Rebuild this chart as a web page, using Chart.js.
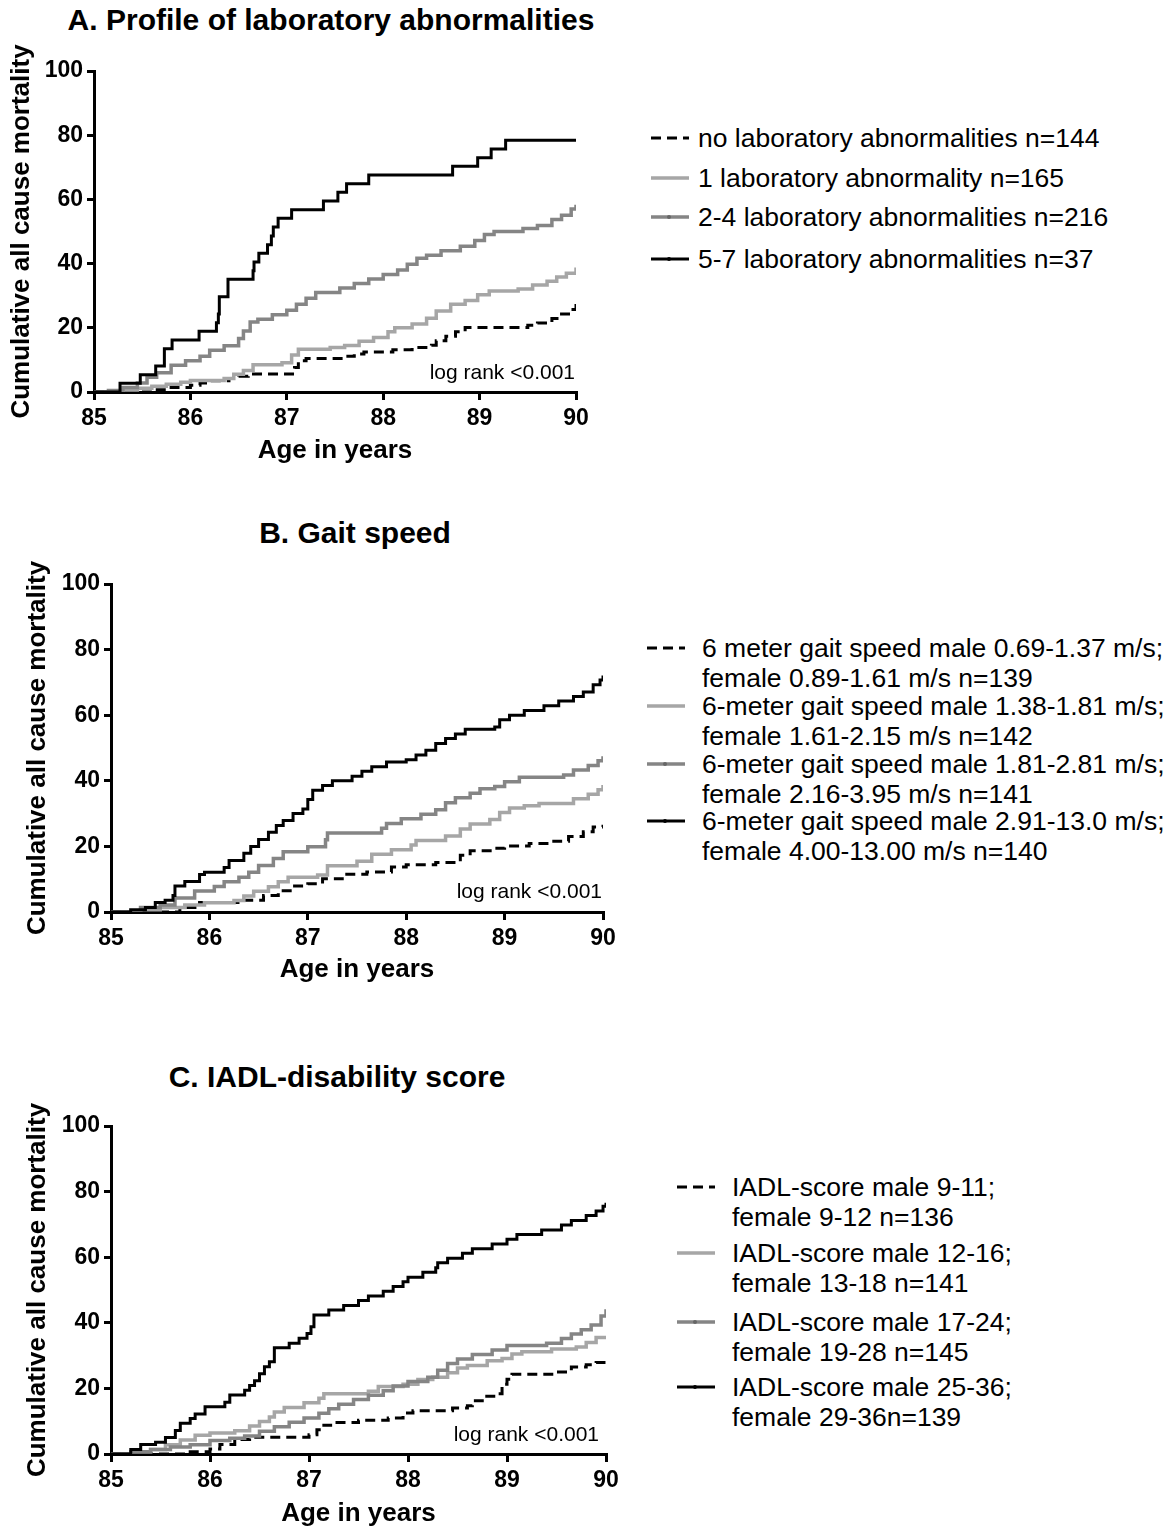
<!DOCTYPE html>
<html>
<head>
<meta charset="utf-8">
<script src="https://cdn.jsdelivr.net/npm/chart.js@4.4.0/dist/chart.umd.min.js"></script>
<style>
  body { margin: 0; background: #fff; width: 1173px; height: 1531px; position: relative; overflow: hidden;
         font-family: "Liberation Sans", Arial, sans-serif; color: #000; }
  .title { position: absolute; font-weight: bold; font-size: 30px; white-space: nowrap; transform: translate(-50%, -50%); }
  .box { position: absolute; left: 0; }
  .logrank { position: absolute; font-size: 21px; white-space: nowrap; transform: translate(-100%, -50%); }
  .row { position: absolute; font-size: 26.5px; line-height: 30px; white-space: nowrap; }
  .row svg { position: absolute; top: 0; }
</style>
</head>
<body>

<div class="title" style="left:331px;top:20px">A. Profile of laboratory abnormalities</div>
<div class="title" style="left:355px;top:533px">B. Gait speed</div>
<div class="title" style="left:337px;top:1077px">C. IADL-disability score</div>

<div class="box" style="top:31px"><canvas id="chartA" width="640" height="440"></canvas></div>
<div class="box" style="top:544px"><canvas id="chartB" width="640" height="446"></canvas></div>
<div class="box" style="top:1086px"><canvas id="chartC" width="640" height="445"></canvas></div>

<div class="logrank" style="left:575px;top:372px">log rank &lt;0.001</div>
<div class="logrank" style="left:602px;top:891px">log rank &lt;0.001</div>
<div class="logrank" style="left:599px;top:1434px">log rank &lt;0.001</div>

<div id="legendA"></div>
<div id="legendB"></div>
<div id="legendC"></div>

<script>
// axis ticks
const ageTicks = [85, 86, 87, 88, 89, 90];
const mortalityTicks = [0, 20, 40, 60, 80, 100];

// A. laboratory abnormalities: [age, cumulative mortality %]
const labNone = [[85,0],[85.6,0.7],[85.8,1.4],[86.0,2.1],[86.1,2.8],[86.2,3.5],[86.4,4.2],[86.5,4.9],[86.6,5.6],[87.08,7.6],[87.12,9.7],[87.2,10.4],[87.6,11.1],[87.7,11.8],[87.8,12.5],[88.1,13.2],[88.3,13.9],[88.5,14.6],[88.55,16.0],[88.65,17.4],[88.75,18.8],[88.85,20.1],[89.5,20.8],[89.6,21.5],[89.75,22.9],[89.85,24.3],[89.95,25.7],[90,27.4]];
const labOne = [[85,0],[85.3,0.6],[85.45,1.2],[85.6,1.8],[85.75,2.4],[85.9,3.0],[86.0,3.6],[86.35,4.2],[86.45,5.5],[86.55,6.7],[86.65,8.5],[86.95,9.1],[87.05,11.5],[87.12,13.3],[87.45,13.9],[87.6,14.5],[87.75,15.8],[87.9,17.0],[88.05,18.8],[88.12,20.0],[88.3,21.2],[88.45,23.0],[88.55,25.2],[88.7,27.3],[88.85,28.5],[88.98,30.3],[89.1,31.5],[89.4,32.1],[89.55,33.3],[89.7,34.5],[89.8,35.8],[89.9,37.0],[90,38.8]];
const labTwoFour = [[85,0],[85.15,0.5],[85.3,1.4],[85.45,2.8],[85.55,4.6],[85.65,6.0],[85.8,8.3],[85.95,9.7],[86.1,11.1],[86.2,13.0],[86.35,14.4],[86.5,16.7],[86.55,19.0],[86.62,21.8],[86.7,22.7],[86.85,24.1],[87.0,25.5],[87.1,27.3],[87.2,29.2],[87.3,31.0],[87.55,32.4],[87.7,33.8],[87.85,35.2],[88.0,36.6],[88.15,38.0],[88.25,39.8],[88.35,41.7],[88.45,42.6],[88.6,44.0],[88.8,45.4],[88.95,47.2],[89.05,49.1],[89.15,50.0],[89.45,50.9],[89.6,51.9],[89.75,53.7],[89.85,55.1],[89.95,57.0],[90,58.3]];
const labFiveSeven = [[85,0],[85.27,2.7],[85.48,5.4],[85.64,8.1],[85.73,13.5],[85.81,16.2],[86.09,18.9],[86.27,21.6],[86.29,24.3],[86.3,29.7],[86.39,35.1],[86.65,37.8],[86.66,40.5],[86.71,43.2],[86.8,45.9],[86.84,48.6],[86.86,51.4],[86.91,54.1],[87.05,56.8],[87.38,59.5],[87.53,62.2],[87.62,64.9],[87.85,67.6],[88.72,70.3],[88.98,73.0],[89.12,75.7],[89.27,78.4],[90,78.4]];

// B. gait speed quartiles
const gaitQ1 = [[85,0],[85.7,1.4],[85.9,2.9],[86.35,3.6],[86.55,5.0],[86.7,6.5],[86.85,7.9],[87.0,8.6],[87.15,10.1],[87.35,11.5],[87.6,12.2],[87.85,13.7],[88.0,14.4],[88.3,15.1],[88.55,17.3],[88.65,18.7],[88.9,19.4],[89.0,20.1],[89.25,20.9],[89.5,21.6],[89.65,23.0],[89.8,24.5],[89.9,25.9],[90,26.6]];
const gaitQ2 = [[85,0],[85.3,0.7],[85.5,1.4],[85.75,2.1],[85.95,2.8],[86.25,3.5],[86.35,4.9],[86.45,6.3],[86.6,7.7],[86.7,9.2],[86.8,10.6],[87.1,11.3],[87.2,14.1],[87.5,15.5],[87.65,17.6],[87.85,19.0],[88.05,20.4],[88.1,21.8],[88.4,23.2],[88.55,25.3],[88.65,26.8],[88.85,28.2],[88.95,30.3],[89.05,31.7],[89.2,32.4],[89.35,33.1],[89.7,34.5],[89.85,35.9],[89.95,37.3],[90,38.7]];
const gaitQ3 = [[85,0],[85.3,1.4],[85.5,2.1],[85.65,4.3],[85.85,6.4],[86.05,7.8],[86.15,9.2],[86.3,10.6],[86.4,12.1],[86.5,14.2],[86.65,16.3],[86.75,18.4],[87.0,19.9],[87.18,22.0],[87.2,24.1],[87.75,25.5],[87.8,27.0],[87.95,28.4],[88.15,29.8],[88.3,31.2],[88.4,33.3],[88.5,34.8],[88.65,36.2],[88.75,37.6],[88.9,38.3],[89.0,39.7],[89.15,41.1],[89.6,41.8],[89.7,43.3],[89.85,44.7],[89.95,46.1],[90,47.5]];
const gaitQ4 = [[85,0],[85.2,0.7],[85.35,1.4],[85.45,2.9],[85.55,3.6],[85.63,5.0],[85.65,7.9],[85.75,9.3],[85.9,11.4],[85.95,12.1],[86.15,13.6],[86.2,15.7],[86.35,17.9],[86.42,20.0],[86.5,22.1],[86.6,24.3],[86.68,26.4],[86.75,27.9],[86.85,30.0],[86.95,31.4],[87.0,34.3],[87.05,37.1],[87.15,38.6],[87.25,40.0],[87.45,41.4],[87.55,42.9],[87.65,44.3],[87.8,45.7],[88.0,46.4],[88.1,47.9],[88.2,49.3],[88.3,51.4],[88.4,52.9],[88.5,54.3],[88.6,55.7],[88.9,56.4],[88.95,58.6],[89.05,60.0],[89.2,61.4],[89.4,62.9],[89.55,64.3],[89.7,65.7],[89.8,67.1],[89.9,69.3],[89.97,70.7],[90,72.1]];

// C. IADL-disability score quartiles
const iadlQ1 = [[85,0],[85.75,0.7],[86.0,1.5],[86.1,2.9],[86.25,4.4],[86.4,5.1],[87.0,5.9],[87.08,7.4],[87.15,8.8],[87.25,9.6],[87.5,10.3],[87.8,11.0],[87.95,12.5],[88.05,13.2],[88.45,14.0],[88.6,14.7],[88.65,16.2],[88.75,17.6],[88.9,18.4],[88.95,21.3],[89.0,22.8],[89.05,24.3],[89.5,25.0],[89.65,26.5],[89.8,27.2],[89.9,27.9],[90,29.4]];
const iadlQ2 = [[85,0],[85.2,0.7],[85.4,1.4],[85.55,2.8],[85.7,4.3],[85.85,5.7],[86.0,6.4],[86.25,7.1],[86.4,8.5],[86.5,9.9],[86.6,11.3],[86.65,12.8],[86.75,14.2],[86.95,15.6],[87.1,17.0],[87.15,18.4],[87.6,19.1],[87.7,20.6],[87.95,21.3],[88.1,22.7],[88.25,23.4],[88.4,24.8],[88.5,26.2],[88.6,27.0],[88.8,28.4],[88.95,29.1],[89.05,30.5],[89.15,31.2],[89.45,32.0],[89.7,32.6],[89.8,34.0],[89.9,35.5],[90,35.6]];
const iadlQ3 = [[85,0],[85.2,0.7],[85.4,1.4],[85.6,2.1],[85.8,2.8],[86.0,4.1],[86.2,4.8],[86.35,5.5],[86.5,6.9],[86.65,8.3],[86.8,9.7],[86.95,11.0],[87.1,12.4],[87.2,13.8],[87.3,15.2],[87.45,16.6],[87.6,17.9],[87.75,19.3],[87.85,20.7],[88.0,22.1],[88.2,23.4],[88.3,25.5],[88.4,27.6],[88.5,29.0],[88.65,30.3],[88.85,31.7],[89.0,33.1],[89.4,33.8],[89.55,35.2],[89.65,36.6],[89.75,37.9],[89.85,39.3],[89.95,42.1],[90,44.1]];
const iadlQ4 = [[85,0],[85.2,1.4],[85.3,2.9],[85.45,3.6],[85.55,5.0],[85.65,7.2],[85.7,9.4],[85.8,10.8],[85.85,12.2],[85.95,14.4],[86.15,15.8],[86.2,18.0],[86.35,19.4],[86.4,20.9],[86.45,22.3],[86.5,24.5],[86.55,26.6],[86.6,28.1],[86.65,32.4],[86.8,33.8],[86.9,35.3],[86.98,36.7],[87.02,38.8],[87.05,42.4],[87.2,43.9],[87.35,45.3],[87.5,46.8],[87.6,48.2],[87.75,49.6],[87.85,51.1],[87.95,52.5],[88.0,53.9],[88.15,55.4],[88.28,56.8],[88.3,58.3],[88.4,59.7],[88.55,61.2],[88.65,62.6],[88.85,64.0],[89.0,65.5],[89.1,66.9],[89.35,68.3],[89.55,69.8],[89.65,71.2],[89.8,72.7],[89.9,74.1],[89.97,75.5],[90,76.6]];

// legend labels (one array per panel, lines split by \n)
const labLabels = ['no laboratory abnormalities n=144', '1 laboratory abnormality  n=165', '2-4 laboratory abnormalities n=216', '5-7 laboratory abnormalities n=37'];
const gaitLabels = ['6 meter gait speed male 0.69-1.37 m/s;\nfemale 0.89-1.61 m/s n=139', '6-meter gait speed male 1.38-1.81 m/s;\nfemale 1.61-2.15 m/s n=142', '6-meter gait speed male 1.81-2.81 m/s;\nfemale 2.16-3.95 m/s n=141', '6-meter gait speed male 2.91-13.0 m/s;\nfemale 4.00-13.00 m/s n=140'];
const iadlLabels = ['IADL-score male 9-11;\nfemale 9-12 n=136', 'IADL-score male 12-16;\nfemale 13-18 n=141', 'IADL-score male 17-24;\nfemale 19-28 n=145', 'IADL-score male 25-36;\nfemale 29-36n=139'];

// line styles for the 4 groups: dashed black, light grey, mid grey, solid black
const styles = [
  { color: '#000000', width: 3, dash: [10, 6] },
  { color: '#a6a6a6', width: 3.5, dash: [] },
  { color: '#858585', width: 3.5, dash: [] },
  { color: '#000000', width: 3, dash: [] }
];

const FONT = '"Liberation Sans", Arial, sans-serif';

function makeChart(id, series, pad, yWidth, xHeight) {
  const ctx = document.getElementById(id).getContext('2d');
  const datasets = series.map((s, i) => ({
    data: s.map(p => ({ x: p[0], y: p[1] })),
    stepped: 'before',
    borderColor: styles[i].color,
    borderWidth: styles[i].width,
    borderDash: styles[i].dash,
    pointRadius: 0,
    fill: false,
    order: 4 - i
  }));
  return new Chart(ctx, {
    type: 'line',
    data: { datasets },
    options: {
      responsive: false,
      animation: false,
      devicePixelRatio: 1,
      layout: { padding: pad },
      plugins: { legend: { display: false }, tooltip: { enabled: false } },
      scales: {
        x: {
          type: 'linear',
          min: ageTicks[0],
          max: ageTicks[ageTicks.length - 1],
          afterBuildTicks: s => { s.ticks = ageTicks.map(v => ({ value: v })); },
          afterFit: s => { s.height = xHeight; },
          grid: { display: true, drawOnChartArea: false, drawTicks: true, tickLength: 8, color: '#000', lineWidth: 3 },
          border: { display: true, color: '#000', width: 3 },
          ticks: { color: '#000', padding: 5, font: { family: FONT, size: 23, weight: 'bold' }, maxRotation: 0 },
          title: { display: true, text: 'Age in years', color: '#000', padding: 0, font: { family: FONT, size: 26, weight: 'bold' } }
        },
        y: {
          min: mortalityTicks[0],
          max: mortalityTicks[mortalityTicks.length - 1],
          afterBuildTicks: s => { s.ticks = mortalityTicks.map(v => ({ value: v })); },
          afterFit: s => { s.width = yWidth; },
          grid: { display: true, drawOnChartArea: false, drawTicks: true, tickLength: 7, color: '#000', lineWidth: 3 },
          border: { display: true, color: '#000', width: 3 },
          ticks: { color: '#000', padding: 4, font: { family: FONT, size: 23, weight: 'bold' } },
          title: { display: true, text: 'Cumulative all cause mortality', color: '#000', padding: 0, font: { family: FONT, size: 26, weight: 'bold' } }
        }
      }
    }
  });
}

makeChart('chartA', [labNone, labOne, labTwoFour, labFiveSeven], { top: 40, left: 6, right: 64, bottom: 4.4 }, 88, 74.6);
makeChart('chartB', [gaitQ1, gaitQ2, gaitQ3, gaitQ4], { top: 40, left: 22, right: 37, bottom: 4.4 }, 89, 73.6);
makeChart('chartC', [iadlQ1, iadlQ2, iadlQ3, iadlQ4], { top: 40, left: 22, right: 34, bottom: 1.4 }, 89, 75.6);

// HTML legends: sample line + text rows
function sample(i) {
  const s = styles[i];
  const dash = s.dash.length ? ` stroke-dasharray="${s.dash.join(' ')}"` : '';
  const dot = i >= 2 ? `<circle cx="19" cy="15" r="2" fill="${s.color === '#000000' ? '#000' : '#666'}"/>` : '';
  return `<svg width="40" height="30"><line x1="1" y1="15" x2="39" y2="15" stroke="${s.color}" stroke-width="${s.width}"${dash}/>${dot}</svg>`;
}

function buildLegend(id, labels, sampleX, textX, rowTops) {
  const host = document.getElementById(id);
  labels.forEach((lab, i) => {
    const lines = lab.split('\n');
    lines.forEach((txt, j) => {
      const row = document.createElement('div');
      row.className = 'row';
      row.style.left = textX + 'px';
      row.style.top = (rowTops[i] + j * 30) + 'px';
      row.textContent = txt;
      host.appendChild(row);
    });
    const sw = document.createElement('div');
    sw.className = 'row';
    sw.style.left = sampleX + 'px';
    sw.style.top = rowTops[i] + 'px';
    sw.innerHTML = sample(i);
    host.appendChild(sw);
  });
}

buildLegend('legendA', labLabels, 650, 698, [123, 163, 202, 244]);
buildLegend('legendB', gaitLabels, 646, 702, [633, 691, 749, 806]);
buildLegend('legendC', iadlLabels, 676, 732, [1172, 1238, 1307, 1372]);
</script>
</body>
</html>
